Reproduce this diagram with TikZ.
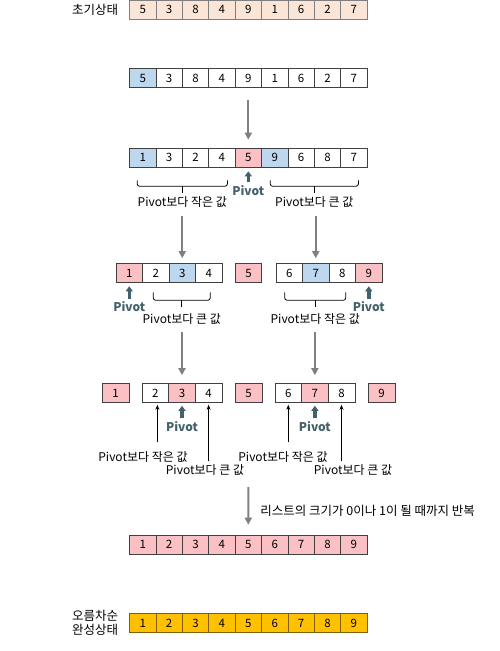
\documentclass[tikz,border=0pt]{standalone}
\usepackage{fontspec}
\setmainfont{Noto Sans CJK KR}
\usetikzlibrary{positioning,arrows.meta,calc}
\definecolor{initc}{HTML}{FBE5D6}
\definecolor{initline}{HTML}{7F7F7F}
\definecolor{selc}{HTML}{BDD7EE}
\definecolor{pivc}{HTML}{FBC0C4}
\definecolor{finc}{HTML}{FFC000}
\definecolor{finline}{HTML}{7F6000}
\definecolor{cellline}{HTML}{404040}
\definecolor{pivtext}{HTML}{44606A}
\definecolor{arrowgray}{HTML}{808080}

\begin{document}
\begin{tikzpicture}[x=1pt,y=-1pt,
  cell/.style={draw=cellline,line width=0.6pt,minimum width=26.4pt,minimum height=19pt,
    inner sep=0pt,font=\fontsize{11.5}{13}\selectfont},
  plain/.style={fill=white},
  sel/.style={fill=selc},
  piv/.style={fill=pivc},
  ini/.style={fill=initc,draw=initline},
  fin/.style={fill=finc,draw=finline},
  lbl/.style={inner sep=1pt,font=\fontsize{12}{14}\selectfont},
  pivlbl/.style={inner sep=1pt,text=pivtext,font=\fontsize{12}{14}\selectfont\bfseries},
  garrow/.style={draw=arrowgray,line width=2pt,-{Triangle[width=7pt,length=7pt]}},
  parrow/.style={draw=pivtext,line width=3.5pt,-{Triangle[width=7pt,length=5pt]}},
  barrow/.style={draw=black,line width=0.8pt,-{Stealth[width=4pt,length=5pt]}},
  brc/.style={draw=black,line width=0.8pt,rounded corners=2.5pt}]
\useasboundingbox (0,0) rectangle (499,651);

% initial list
\foreach \v [count=\i] in {5,3,8,4,9,1,6,2,7}
  \node[cell,ini] (a\i) at (116.3+\i*26.4,9.5) {\v};
\node[lbl,font=\fontsize{12.5}{14}\selectfont,left=10pt of a1] (startlbl) {초기상태};

% choose pivot
\foreach \v/\s [count=\i] in {5/sel,3/plain,8/plain,4/plain,9/plain,1/plain,6/plain,2/plain,7/plain}
  \node[cell,\s] (b\i) at (116.3+\i*26.4,78) {\v};

% first partition
\foreach \v/\s [count=\i] in {1/sel,3/plain,2/plain,4/plain,5/piv,9/sel,6/plain,8/plain,7/plain}
  \node[cell,\s] (c\i) at (116.3+\i*26.4,157.5) {\v};
\draw[garrow,shorten <=12.5pt,shorten >=8pt] (b5.south) -- (c5.north);
\node[pivlbl,below=17pt of c5] (pv1) {Pivot};
\draw[parrow,shorten <=2pt,shorten >=4pt] (pv1.north) -- (c5.south);
\coordinate (br1a) at ([xshift=8pt,yshift=-13pt]c1.south west);
\coordinate (br1b) at ([xshift=-8pt,yshift=-13pt]c4.south east);
\draw[brc] (br1a) -- ++(0,6) -| (br1b);
\draw[brc] ($(br1a)!.5!(br1b)+(0,6)$) -- ++(0,7) node[lbl,below=2pt] (lt1) {Pivot보다 작은 값};
\coordinate (br2a) at ([xshift=9pt,yshift=-13pt]c6.south west);
\coordinate (br2b) at ([xshift=-9pt,yshift=-13pt]c9.south east);
\draw[brc] (br2a) -- ++(0,6) -| (br2b);
\draw[brc] ($(br2a)!.5!(br2b)+(0,6)$) -- ++(0,7) node[lbl,below=2pt] (lt2) {Pivot보다 큰 값};

% second partition
\foreach \v/\s [count=\i] in {1/piv,2/plain,3/sel,4/plain}
  \node[cell,\s,minimum width=26.5pt] (d\i) at (102.75+\i*26.5,273) {\v};
\node[cell,piv,minimum width=26.5pt] (d5) at (248.5,273) {5};
\foreach \v/\s [count=\i from 6] in {6/plain,7/sel,8/plain,9/piv}
  \node[cell,\s,minimum width=26.5pt] (d\i) at (130.25+\i*26.5,273) {\v};
\draw[garrow,shorten <=7pt,shorten >=5pt] (lt1.south -| d3) -- (d3.north);
\draw[garrow,shorten <=7pt,shorten >=5pt] (lt2.south -| d7) -- (d7.north);
\node[pivlbl,below=18pt of d1] (pv2) {Pivot};
\draw[parrow,shorten <=2pt,shorten >=3.5pt] (pv2.north) -- (d1.south);
\node[pivlbl,below=18pt of d9] (pv3) {Pivot};
\draw[parrow,shorten <=2pt,shorten >=3.5pt] (pv3.north) -- (d9.south);
\coordinate (br3a) at ([xshift=11pt,yshift=-9.5pt]d2.south west);
\coordinate (br3b) at ([xshift=-12pt,yshift=-9.5pt]d4.south east);
\draw[brc] (br3a) -- ++(0,8) -| (br3b);
\draw[brc] ($(br3a)!.5!(br3b)+(0,8)$) -- ++(0,7) node[lbl,below=5pt] (lt3) {Pivot보다 큰 값};
\coordinate (br4a) at ([xshift=9pt,yshift=-9.5pt]d6.south west);
\coordinate (br4b) at ([xshift=-10pt,yshift=-9.5pt]d8.south east);
\draw[brc] (br4a) -- ++(0,8) -| (br4b);
\draw[brc] ($(br4a)!.5!(br4b)+(0,8)$) -- ++(0,7) node[lbl,below=5pt] (lt4) {Pivot보다 작은 값};

% third partition
\node[cell,piv,minimum width=26.6pt] (e1) at (115.5,393) {1};
\foreach \v/\s [count=\i from 2] in {2/plain,3/piv,4/plain}
  \node[cell,\s,minimum width=26.6pt] (e\i) at (102.2+\i*26.6,393) {\v};
\node[cell,piv,minimum width=26.6pt] (e5) at (248.5,393) {5};
\foreach \v/\s [count=\i from 6] in {6/plain,7/piv,8/plain}
  \node[cell,\s,minimum width=26.6pt] (e\i) at (128.7+\i*26.6,393) {\v};
\node[cell,piv,minimum width=26.6pt] (e9) at (381.5,393) {9};
\draw[garrow,shorten <=6pt,shorten >=8pt] (lt3.south -| e3) -- (e3.north);
\draw[garrow,shorten <=6pt,shorten >=8pt] (lt4.south -| e7) -- (e7.north);
\node[pivlbl,below=17.5pt of e3] (pv4) {Pivot};
\draw[parrow,shorten <=2pt,shorten >=3pt] (pv4.north) -- (e3.south);
\node[pivlbl,below=17.5pt of e7] (pv5) {Pivot};
\draw[parrow,shorten <=2pt,shorten >=3pt] (pv5.north) -- (e7.south);
\node[lbl] (lb1) at (143,457) {Pivot보다 작은 값};
\node[lbl] (lb2) at (205,470) {Pivot보다 큰 값};
\node[lbl] (lb3) at (283,457) {Pivot보다 작은 값};
\node[lbl] (lb4) at (353,470) {Pivot보다 큰 값};
\draw[barrow,shorten <=8pt,shorten >=2pt] ([xshift=2pt]lb1.north -| e2) -- ([xshift=2pt]e2.south);
\draw[barrow,shorten <=2pt,shorten >=2pt] (lb2.north -| e4) -- (e4.south);
\draw[barrow,shorten <=8pt,shorten >=2pt] (lb3.north -| e6) -- (e6.south);
\draw[barrow,shorten <=2pt,shorten >=2pt] (lb4.north -| e8) -- (e8.south);

% merged
\foreach \v [count=\i] in {1,...,9}
  \node[cell,piv] (f\i) at (116.3+\i*26.4,544.5) {\v};
\coordinate (rep) at (248.3,487);
\draw[garrow,shorten >=10pt] (rep) -- (f5.north)
  node[lbl,font=\fontsize{12.5}{14}\selectfont,midway,right=10pt] (replbl) {리스트의 크기가 0이나 1이 될 때까지 반복};

% sorted
\foreach \v [count=\i] in {1,...,9}
  \node[cell,fin] (g\i) at (116.3+\i*26.4,623) {\v};
\node[lbl,font=\fontsize{12.5}{13.5}\selectfont,align=center,left=10pt of g1] (donelbl) {오름차순\\완성상태};
\end{tikzpicture}
\end{document}
